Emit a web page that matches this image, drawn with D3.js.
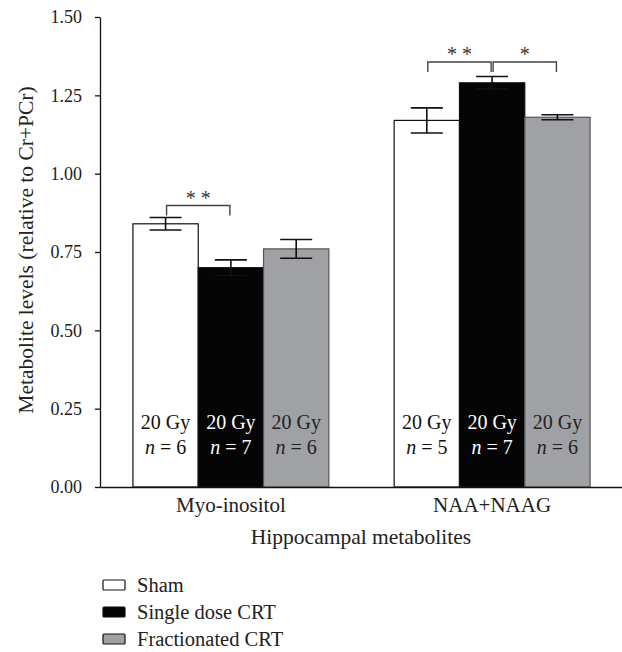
<!DOCTYPE html>
<html>
<head>
<meta charset="utf-8">
<script src="https://cdn.jsdelivr.net/npm/d3@7"></script>
<style>
    body { margin: 0; background: #fff; }
    svg text { font-family: "Liberation Serif", "DejaVu Serif", serif; fill: #222; }
</style>
</head>
<body>
<div id="chart"></div>
<script>
// chart data
var metabolites = ["Myo-inositol", "NAA+NAAG"];
var groups = ["Sham", "Single dose CRT", "Fractionated CRT"];
var means = [[0.84, 0.70, 0.76], [1.17, 1.29, 1.18]];
var errors = [[0.02, 0.025, 0.03], [0.04, 0.02, 0.008]];
var doses = [["20 Gy", "20 Gy", "20 Gy"], ["20 Gy", "20 Gy", "20 Gy"]];
var nValues = [[6, 7, 6], [5, 7, 6]];
var yTicks = [0, 0.25, 0.5, 0.75, 1.0, 1.25, 1.5];
// significance brackets: metabolite index, from group, to group, label
var sigPairs = [[0, 0, 1, "* *"], [1, 0, 1, "* *"], [1, 1, 2, "*"]];

var fills = ["#ffffff", "#050505", "#a0a1a5"];
var strokes = ["#111", "#111", "#555"];
var textFill = ["#111", "#fff", "#222"];

var svgWidth = 622, svgHeight = 652;

var svg = d3.select("#chart").append("svg")
    .attr("width", svgWidth)
    .attr("height", svgHeight);

var y = d3.scaleLinear().domain([0, 1.5]).range([487, 17]);

var x0 = d3.scaleBand()
    .domain(metabolites)
    .range([100, 623])
    .paddingInner(0.25)
    .paddingOuter(0.126);

var x1 = d3.scaleBand()
    .domain(groups)
    .range([0, x0.bandwidth()]);

// y axis
var yAxis = d3.axisLeft(y)
    .tickValues(yTicks)
    .tickFormat(d3.format(".2f"))
    .tickSize(5)
    .tickSizeOuter(0);

var yAxisG = svg.append("g")
    .attr("transform", "translate(100,0)")
    .call(yAxis);
yAxisG.select(".domain").attr("stroke", "#111").attr("stroke-width", 1.3);
yAxisG.selectAll(".tick line").attr("stroke", "#111").attr("stroke-width", 1.3);
yAxisG.selectAll(".tick text")
    .attr("x", -18)
    .style("font-size", "18px");

// bars
metabolites.forEach(function(m, i) {
    var g = svg.append("g").attr("transform", "translate(" + x0(m) + ",0)");

    groups.forEach(function(grp, j) {
        var bx = x1(grp);
        var bw = x1.bandwidth();
        var cx = bx + bw / 2;

        g.append("rect")
            .attr("x", bx)
            .attr("y", y(means[i][j]))
            .attr("width", bw)
            .attr("height", y(0) - y(means[i][j]))
            .attr("fill", fills[j])
            .attr("stroke", strokes[j])
            .attr("stroke-width", 1.2);

        // error bar
        var hi = y(means[i][j] + errors[i][j]);
        var lo = y(means[i][j] - errors[i][j]);
        var capW = 16;
        var eb = g.append("g").attr("stroke", "#111").attr("stroke-width", 1.6);
        eb.append("line").attr("x1", cx).attr("x2", cx).attr("y1", hi).attr("y2", lo);
        eb.append("line").attr("x1", cx - capW).attr("x2", cx + capW).attr("y1", hi).attr("y2", hi);
        eb.append("line").attr("x1", cx - capW).attr("x2", cx + capW).attr("y1", lo).attr("y2", lo);

        // labels inside bars
        g.append("text")
            .attr("x", cx)
            .attr("y", 429)
            .attr("text-anchor", "middle")
            .style("font-size", "20px")
            .style("fill", textFill[j])
            .text(doses[i][j]);

        var nt = g.append("text")
            .attr("x", cx)
            .attr("y", 454)
            .attr("text-anchor", "middle")
            .style("font-size", "20px")
            .style("fill", textFill[j]);
        nt.append("tspan").style("font-style", "italic").text("n");
        nt.append("tspan").text(" = " + nValues[i][j]);
    });
});

// significance brackets (short fixed legs)
sigPairs.forEach(function(p) {
    var m = metabolites[p[0]];
    var xa = x0(m) + x1(groups[p[1]]) + x1.bandwidth() / 2 + 1;
    var xb = x0(m) + x1(groups[p[2]]) + x1.bandwidth() / 2 - 1;
    var topA = y(means[p[0]][p[1]] + errors[p[0]][p[1]]);
    var topB = y(means[p[0]][p[2]] + errors[p[0]][p[2]]);
    var by = Math.min(topA, topB) - 12;
    if (p[0] === 1) { by = 62; }
    svg.append("path")
        .attr("d", "M" + xa + "," + (by + 10) + "V" + by + "H" + xb + "V" + (by + 10))
        .attr("fill", "none")
        .attr("stroke", "#444")
        .attr("stroke-width", 1.4);
    svg.append("text")
        .attr("x", (xa + xb) / 2)
        .attr("y", by - 1)
        .attr("text-anchor", "middle")
        .style("font-size", "20px")
        .style("fill", "#333")
        .text(p[3]);
});

// x axis
var xAxisG = svg.append("g")
    .attr("transform", "translate(0,487)")
    .call(d3.axisBottom(x0).tickSize(0).tickSizeOuter(0));
xAxisG.select(".domain").attr("stroke", "#111").attr("stroke-width", 1.3);
xAxisG.selectAll(".tick text")
    .attr("y", 10)
    .style("font-size", "21px");

// axis titles
svg.append("text")
    .attr("x", 361)
    .attr("y", 544)
    .attr("text-anchor", "middle")
    .style("font-size", "21.5px")
    .text("Hippocampal metabolites");

svg.append("text")
    .attr("transform", "translate(33,250) rotate(-90)")
    .attr("text-anchor", "middle")
    .style("font-size", "21.5px")
    .text("Metabolite levels (relative to Cr+PCr)");

// legend
var legend = svg.append("g").attr("transform", "translate(103,585)");
groups.forEach(function(grp, j) {
    var row = legend.append("g").attr("transform", "translate(0," + (j * 27) + ")");
    row.append("rect")
        .attr("x", 0).attr("y", -5)
        .attr("width", 22).attr("height", 10)
        .attr("rx", 1)
        .attr("fill", fills[j])
        .attr("stroke", "#111")
        .attr("stroke-width", 1.2);
    row.append("text")
        .attr("x", 34)
        .attr("y", 7)
        .style("font-size", "20.5px")
        .text(grp);
});
</script>
</body>
</html>
